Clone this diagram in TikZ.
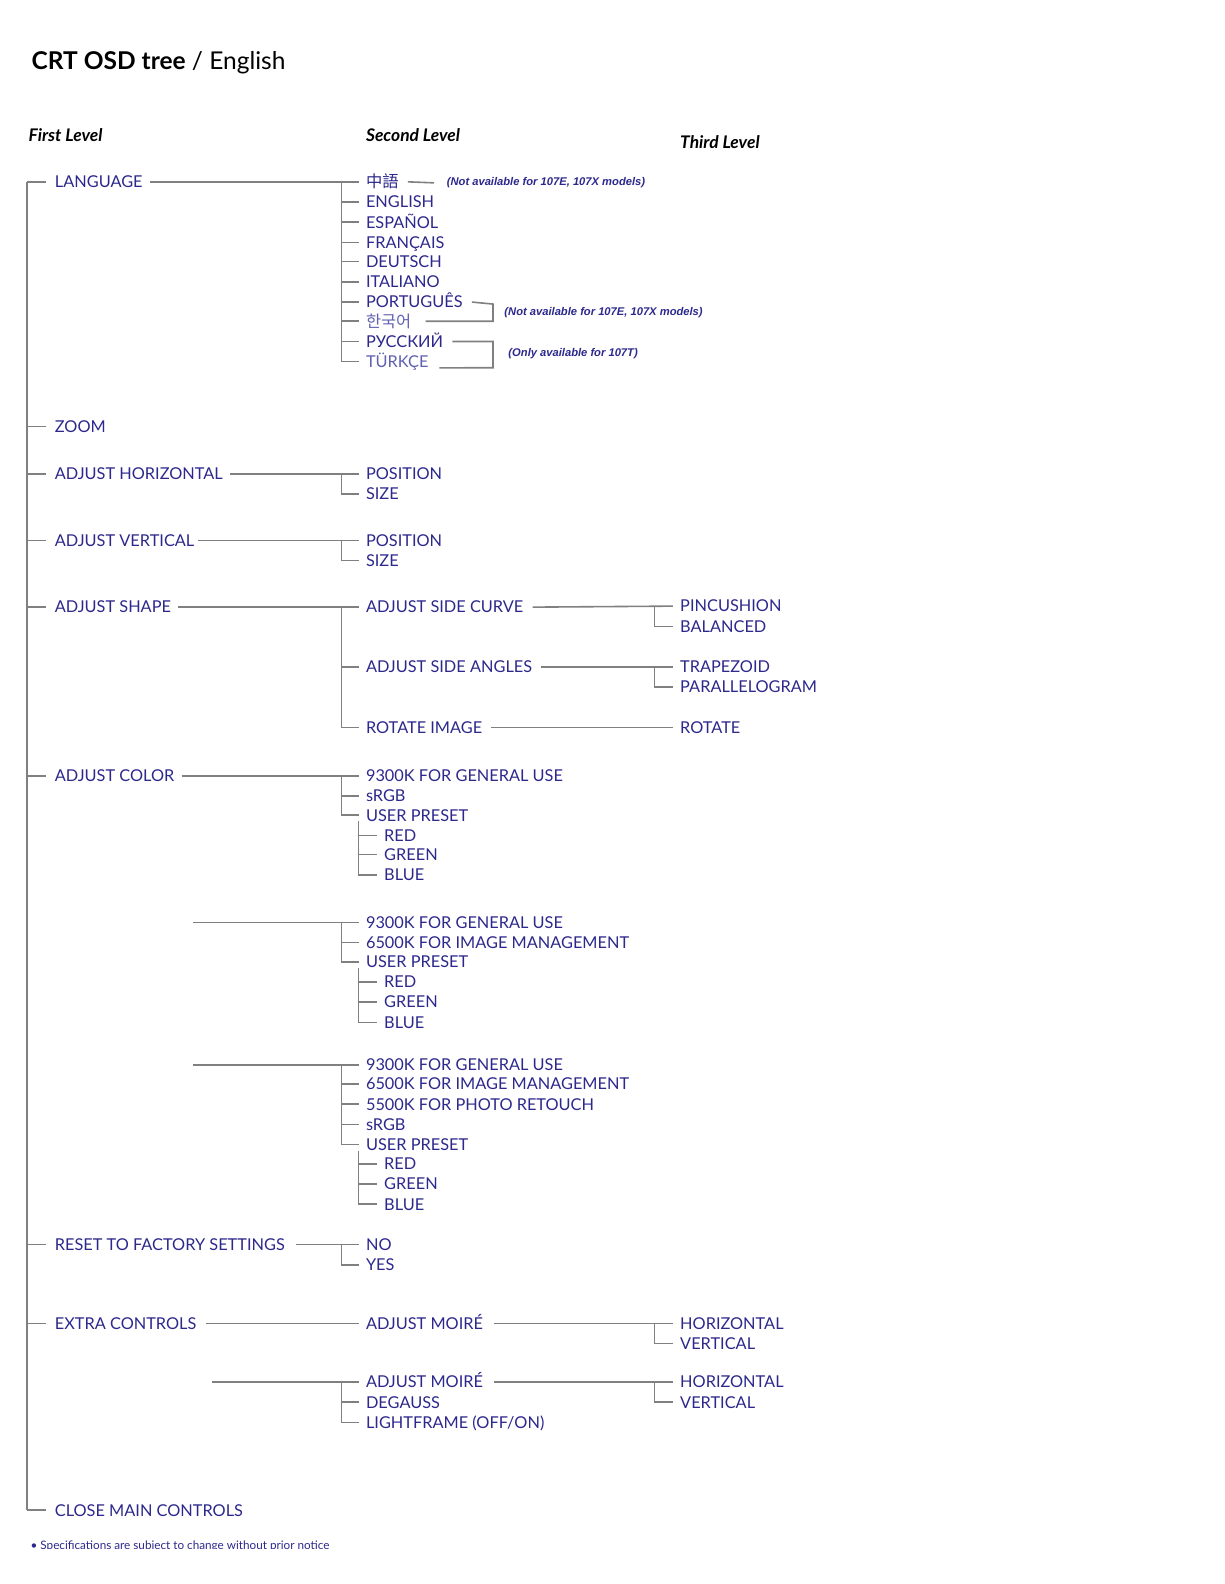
\documentclass[tikz,border=0pt]{standalone}
\usepackage{fontspec}
\setmainfont{Lato}
\newfontfamily\cjkfont{Noto Sans CJK TC}
\newfontfamily\korfont{Noto Sans CJK KR}
\newfontfamily\notefont{Liberation Sans}
\definecolor{osdblue}{RGB}{44,40,140}
\definecolor{osdpale}{RGB}{96,96,176}
\definecolor{osdgray}{RGB}{128,128,128}

\begin{document}
\begin{tikzpicture}[x=0.02cm,y=-0.02cm,
  item/.style={anchor=west,inner sep=0pt,text=osdblue,font=\fontsize{9.2}{11}\selectfont,text height=6.6pt,text depth=0pt},
  head/.style={anchor=west,inner sep=0pt,font=\fontsize{9.8}{11}\selectfont\bfseries\itshape},
  note/.style={anchor=west,inner sep=0pt,text=osdblue,font=\notefont\fontsize{6.3}{7}\selectfont\bfseries\itshape},
  link/.style={osdgray,line width=0.9pt}]
\path[use as bounding box] (0,0) rectangle (1212,1568);

% headings
\node[anchor=west,inner sep=0pt,font=\fontsize{13.8}{16}\selectfont] (title) at (31,62) {\textbf{CRT OSD tree} / English};
\node[head] (first) at (28,134) {First Level};
\node[head] (second) at (362,134) {Second Level};
\node[head] (third) at (673,141) {Third Level};

% first level
\coordinate (trunk) at (27,180);
\coordinate (f2) at (338,0);
\coordinate (f3) at (648,0);
\foreach \n/\y/\t in {lang/180/LANGUAGE, zoom/422/ZOOM, horiz/469/ADJUST HORIZONTAL,
    vert/535/ADJUST VERTICAL, shape/601/ADJUST SHAPE, color/768/ADJUST COLOR,
    reset/1232/RESET TO FACTORY SETTINGS, extra/1310/EXTRA CONTROLS, close/1495/CLOSE MAIN CONTROLS}{
  \node[item] (\n) at (54,\y) {\t};
  \draw[link] (trunk |- \n.west) -- ([xshift=-5pt]\n.west);
}
\draw[link] (trunk) -- (trunk |- close.west);

% language
\foreach \n/\y/\t in {cn/180/{\cjkfont 中語}, en/200/ENGLISH, es/220/ESPAÑOL, fr/240/FRANÇAIS,
    de/259/DEUTSCH, it/279/ITALIANO, pt/299/PORTUGUÊS, ko/318/{\korfont\color{osdpale}한국어},
    ru/338/РУССКИЙ, tr/358/{\color{osdpale}TÜRKÇE}}
  \node[item] (\n) at (362,\y) {\t};
\draw[link] ([xshift=4pt]lang.east) -- ([xshift=-4pt]cn.west);
\draw[link] (f2 |- cn.west) |- ([xshift=-4pt]tr.west);
\foreach \n in {en,es,fr,de,it,pt,ko,ru}
  \draw[link] (f2 |- \n.west) -- ([xshift=-4pt]\n.west);

\node[note] (na1) at (442,181) {(Not available for 107E, 107X models)};
\draw[link] ([xshift=5pt]cn.east) -- ([xshift=-7pt]na1.west);
\node[note] (na2) at (499,309) {(Not available for 107E, 107X models)};
\coordinate (br1) at (488,301);
\draw[link] ([xshift=5pt]pt.east) -- (br1) -- (br1 |- ko.east) -- ([xshift=8pt]ko.east);
\node[note] (na3) at (503,350) {(Only available for 107T)};
\coordinate (br2) at (488,338);
\draw[link] ([xshift=5pt]ru.east) -- (br2) -- (488,364) -- ([xshift=6pt]tr.south east);

% adjust horizontal / vertical
\node[item] (pos1) at (362,469) {POSITION};
\node[item] (size1) at (362,489) {SIZE};
\draw[link] ([xshift=4pt]horiz.east) -- ([xshift=-4pt]pos1.west);
\draw[link] (f2 |- pos1.west) |- ([xshift=-4pt]size1.west);
\node[item] (pos2) at (362,535) {POSITION};
\node[item] (size2) at (362,555) {SIZE};
\draw[link] ([xshift=2pt]vert.east) -- ([xshift=-4pt]pos2.west);
\draw[link] (f2 |- pos2.west) |- ([xshift=-4pt]size2.west);

% adjust shape
\node[item] (curve) at (362,601) {ADJUST SIDE CURVE};
\node[item] (angles) at (362,660) {ADJUST SIDE ANGLES};
\node[item] (rotimg) at (362,720) {ROTATE IMAGE};
\draw[link] ([xshift=4pt]shape.east) -- ([xshift=-4pt]curve.west);
\draw[link] (f2 |- curve.west) |- ([xshift=-4pt]rotimg.west);
\draw[link] (f2 |- angles.west) -- ([xshift=-4pt]angles.west);
\node[item] (pin) at (673,600) {PINCUSHION};
\node[item] (bal) at (673,620) {BALANCED};
\node[item] (trap) at (673,660) {TRAPEZOID};
\node[item] (para) at (673,680) {PARALLELOGRAM};
\node[item] (rot) at (673,720) {ROTATE};
\draw[link] ([xshift=5pt]curve.east) -- ([xshift=-4pt]pin.west);
\draw[link] (f3 |- pin.west) |- ([xshift=-4pt]bal.west);
\draw[link] ([xshift=5pt]angles.east) -- ([xshift=-4pt]trap.west);
\draw[link] (f3 |- trap.west) |- ([xshift=-4pt]para.west);
\draw[link] ([xshift=5pt]rotimg.east) -- ([xshift=-4pt]rot.west);

% adjust color
\foreach \n/\y/\t in {ca1/768/9300K FOR GENERAL USE, ca2/788/sRGB, ca3/807/USER PRESET}
  \node[item] (\n) at (362,\y) {\t};
\foreach \n/\y/\t in {ca4/827/RED, ca5/846/GREEN, ca6/866/BLUE}
  \node[item] (\n) at (380,\y) {\t};
\draw[link] ([xshift=4pt]color.east) -- ([xshift=-4pt]ca1.west);
\draw[link] (f2 |- ca1.west) |- ([xshift=-4pt]ca3.west);
\draw[link] (f2 |- ca2.west) -- ([xshift=-4pt]ca2.west);
\draw[link] ([xshift=-4pt]ca3.south west) |- ([xshift=-4pt]ca6.west);
\foreach \n in {ca4,ca5}
  \draw[link] ([xshift=-4pt]ca3.west |- \n.west) -- ([xshift=-4pt]\n.west);

\coordinate (cbin) at (191,913);
\foreach \n/\y/\t in {cb1/913/9300K FOR GENERAL USE, cb2/933/6500K FOR IMAGE MANAGEMENT, cb3/952/USER PRESET}
  \node[item] (\n) at (362,\y) {\t};
\foreach \n/\y/\t in {cb4/972/RED, cb5/992/GREEN, cb6/1012/BLUE}
  \node[item] (\n) at (380,\y) {\t};
\draw[link] (cbin) -- ([xshift=-4pt]cb1.west);
\draw[link] (f2 |- cb1.west) |- ([xshift=-4pt]cb3.west);
\draw[link] (f2 |- cb2.west) -- ([xshift=-4pt]cb2.west);
\draw[link] ([xshift=-4pt]cb3.south west) |- ([xshift=-4pt]cb6.west);
\foreach \n in {cb4,cb5}
  \draw[link] ([xshift=-4pt]cb3.west |- \n.west) -- ([xshift=-4pt]\n.west);

\coordinate (ccin) at (191,1054);
\foreach \n/\y/\t in {cc1/1054/9300K FOR GENERAL USE, cc2/1073/6500K FOR IMAGE MANAGEMENT,
    cc3/1093/5500K FOR PHOTO RETOUCH, cc4/1113/sRGB, cc5/1133/USER PRESET}
  \node[item] (\n) at (362,\y) {\t};
\foreach \n/\y/\t in {cc6/1152/RED, cc7/1172/GREEN, cc8/1192/BLUE}
  \node[item] (\n) at (380,\y) {\t};
\draw[link] (ccin) -- ([xshift=-4pt]cc1.west);
\draw[link] (f2 |- cc1.west) |- ([xshift=-4pt]cc5.west);
\foreach \n in {cc2,cc3,cc4}
  \draw[link] (f2 |- \n.west) -- ([xshift=-4pt]\n.west);
\draw[link] ([xshift=-4pt]cc5.south west) |- ([xshift=-4pt]cc8.west);
\foreach \n in {cc6,cc7}
  \draw[link] ([xshift=-4pt]cc5.west |- \n.west) -- ([xshift=-4pt]\n.west);

% reset
\node[item] (no) at (362,1232) {NO};
\node[item] (yes) at (362,1252) {YES};
\draw[link] ([xshift=6pt]reset.east) -- ([xshift=-4pt]no.west);
\draw[link] (f2 |- no.west) |- ([xshift=-4pt]yes.west);

% extra controls
\node[item] (moire1) at (362,1310) {ADJUST MOIRÉ};
\node[item] (hor1) at (673,1310) {HORIZONTAL};
\node[item] (ver1) at (673,1330) {VERTICAL};
\draw[link] ([xshift=5pt]extra.east) -- ([xshift=-4pt]moire1.west);
\draw[link] ([xshift=6pt]moire1.east) -- ([xshift=-4pt]hor1.west);
\draw[link] (f3 |- hor1.west) |- ([xshift=-4pt]ver1.west);

\coordinate (exin) at (210,1368);
\node[item] (moire2) at (362,1368) {ADJUST MOIRÉ};
\node[item] (degauss) at (362,1388) {DEGAUSS};
\node[item] (light) at (362,1408) {LIGHTFRAME (OFF/ON)};
\node[item] (hor2) at (673,1368) {HORIZONTAL};
\node[item] (ver2) at (673,1388) {VERTICAL};
\draw[link] (exin) -- ([xshift=-4pt]moire2.west);
\draw[link] (f2 |- moire2.west) |- ([xshift=-4pt]light.west);
\draw[link] (f2 |- degauss.west) -- ([xshift=-4pt]degauss.west);
\draw[link] ([xshift=6pt]moire2.east) -- ([xshift=-4pt]hor2.west);
\draw[link] (f3 |- hor2.west) |- ([xshift=-4pt]ver2.west);

% footer, cut off at the page edge
\begin{scope}
\clip (0,0) rectangle (1212,1533);
\node[anchor=west,inner sep=0pt,text=osdblue,font=\fontsize{6.6}{8}\selectfont] (foot) at (30,1531) {• Specifications are subject to change without prior notice};
\end{scope}
\end{tikzpicture}
\end{document}
